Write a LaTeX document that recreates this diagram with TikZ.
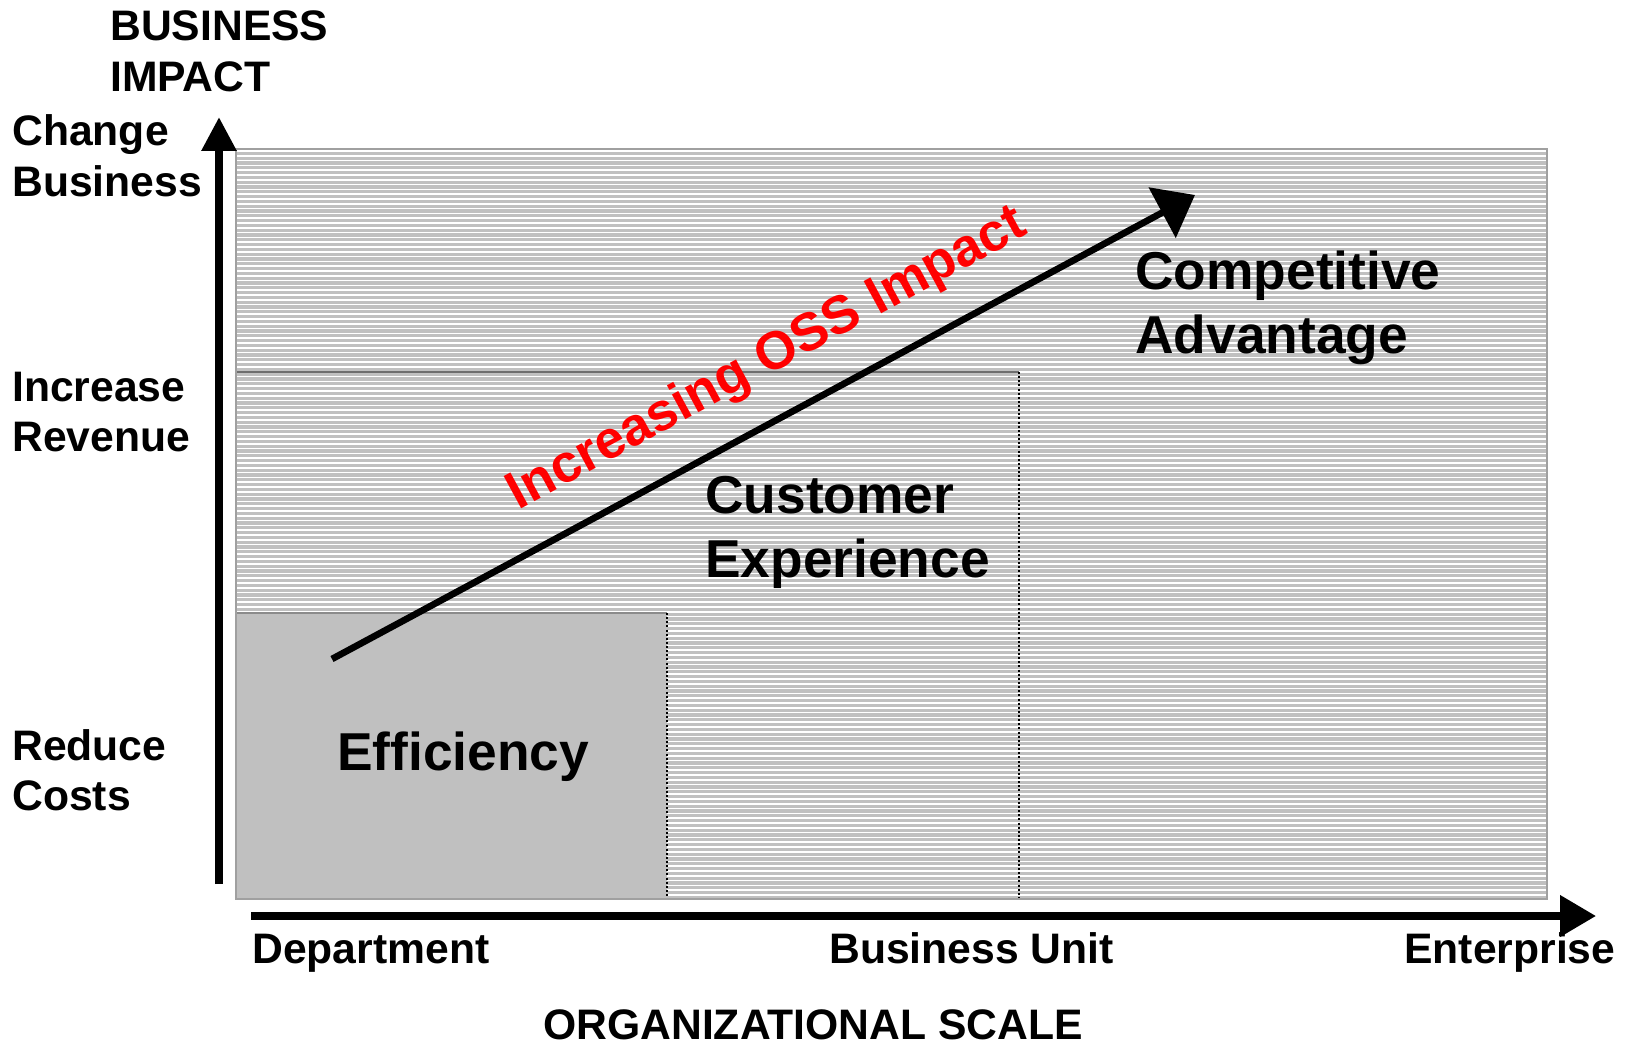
\documentclass[tikz,border=0pt]{standalone}
\usepackage{fontspec}
\setmainfont{Liberation Sans}
\usetikzlibrary{arrows.meta}
\definecolor{panelgray}{HTML}{C0C0C0}
\definecolor{edgegray}{HTML}{A0A0A0}
\definecolor{rulegray}{HTML}{6E6E6E}
\definecolor{ossred}{HTML}{FF0000}
% two stacked lines whose baseline is the first line's baseline
\newcommand{\twolines}[2]{\begin{tabular}[t]{@{}l@{}}#1\\#2\end{tabular}}
\begin{document}
\begin{tikzpicture}[x=0.75pt,y=-0.75pt,
  lbl/.style={font=\bfseries\fontsize{32}{38}\selectfont, inner sep=0pt, anchor=base west},
  big/.style={font=\bfseries\fontsize{40}{48}\selectfont, inner sep=0pt, anchor=base west},
  dotedge/.style={black, line width=0.8pt, dash pattern=on 1.5pt off 1.6pt},
]
\useasboundingbox (0,0) rectangle (1628,1045);

% striped background panel
\fill[panelgray] (236,149) rectangle (1547,899);
\foreach \yy in {151,155.8,...,898}
  \draw[white, line width=1.1pt] (236,\yy) -- (1547,\yy);

% solid efficiency panel
\fill[panelgray] (236,613) rectangle (667,899);
\draw[rulegray!80, line width=0.9pt] (236,613) -- (667,613);
\draw[dotedge] (667,613) -- (667,899);

% customer experience panel edges
\draw[rulegray, line width=0.9pt] (236,372) -- (1019,372);
\draw[dotedge] (1019,372) -- (1019,899);

% outer frame
\draw[edgegray, line width=1.5pt] (236,149) rectangle (1547,899);

% axes
\coordinate (ybot) at (219,884);
\coordinate (ytop) at (219,117);
\coordinate (xleft) at (251,916);
\coordinate (xright) at (1596,916);
\draw[line width=6pt, -{Triangle[length=25.5pt,width=25pt]}] (ybot) -- (ytop);
\draw[line width=5.6pt, -{Triangle[length=27pt,width=30pt]}] (xleft) -- (xright);

% growth arrow
\coordinate (gstart) at (332,659);
\coordinate (gend) at (1195,195);
\draw[line width=5pt, -{Triangle[length=28pt,width=42pt]}] (gstart) -- (gend);

% axis titles
\node[lbl] (ytitle) at (110,41) {\twolines{BUSINESS}{IMPACT}};
\node[lbl] (xtitle) at (543,1039) {ORGANIZATIONAL SCALE};

% vertical scale labels
\node[lbl] (chg) at (12,146) {\twolines{Change}{Business}};
\node[lbl] (rev) at (12,401) {\twolines{Increase}{Revenue}};
\node[lbl] (cost) at (12,760) {\twolines{Reduce}{Costs}};

% horizontal scale labels
\node[lbl] (dept) at (252,963) {Department};
\node[lbl] (bu) at (829,963) {Business Unit};
\node[lbl] (ent) at (1404,963) {Enterprise};

% panel captions
\node[big] (eff) at (337,770) {Efficiency};
\node[big] (cust) at (705,513) {\twolines{Customer}{Experience}};
\node[big] (comp) at (1135,289) {\twolines{Competitive}{Advantage}};

% arrow caption
\node[font=\bfseries\fontsize{40}{44}\selectfont, text=ossred, inner sep=0pt, anchor=base, rotate=28.5] (oss) at (774,372) {Increasing OSS Impact};
\end{tikzpicture}
\end{document}
